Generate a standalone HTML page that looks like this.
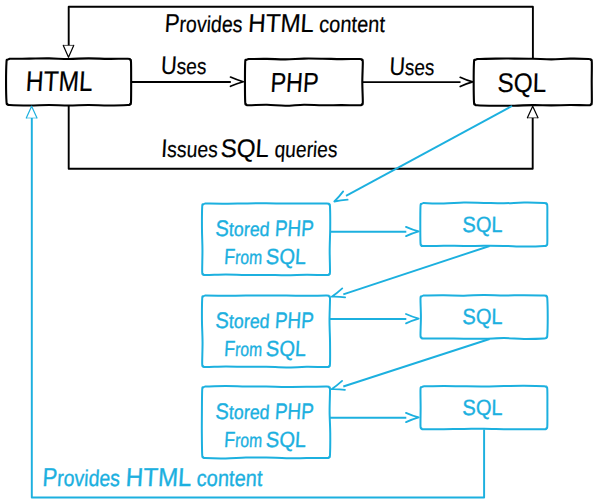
<!DOCTYPE html>
<html><head><meta charset="utf-8"><style>
html,body{margin:0;padding:0;background:#fff;width:600px;height:503px;overflow:hidden}
svg{display:block}
text{font-family:"Liberation Sans",sans-serif}
</style></head><body>
<svg width="600" height="503" viewBox="0 0 600 503">
<rect width="600" height="503" fill="#fff"/>
<path d="M532.9,59 L532.9,6.7 L68.7,6.7 L68.7,45.4" fill="none" stroke="#000" stroke-width="1.9" stroke-linejoin="round" stroke-linecap="butt"/>
<path d="M63.3,45.4 L68.5,57.3 L73.7,45.4 Z" fill="#fff" stroke="none"/>
<path d="M63.3,45.4 L68.5,57.3 L73.7,45.4" fill="none" stroke="#000" stroke-width="1.2" stroke-linejoin="round" stroke-linecap="round"/>
<path d="M63.3,45.4 L73.7,45.4" fill="none" stroke="#000" stroke-width="0.9" stroke-opacity="0.75"/>
<path d="M68.7,105 L68.7,168.8 L532.7,168.8 L532.7,117.8" fill="none" stroke="#000" stroke-width="1.9" stroke-linejoin="round" stroke-linecap="butt"/>
<path d="M527.4,117.8 L532.7,106.2 L538,117.8 Z" fill="#fff" stroke="none"/>
<path d="M527.4,117.8 L532.7,106.2 L538,117.8" fill="none" stroke="#000" stroke-width="1.2" stroke-linejoin="round" stroke-linecap="round"/>
<path d="M527.4,117.8 L538,117.8" fill="none" stroke="#000" stroke-width="0.9" stroke-opacity="0.75"/>
<path d="M131,82 L230.8,82" fill="none" stroke="#000" stroke-width="1.85" stroke-linejoin="round" stroke-linecap="butt"/>
<path d="M230.5,86.3 Q236.9,83.4 243.3,81.7 Q236.9,80 230.5,77.1" fill="none" stroke="#000" stroke-width="1.7" stroke-linejoin="round" stroke-linecap="round"/>
<path d="M362.8,82.1 L460.5,82.1" fill="none" stroke="#000" stroke-width="1.85" stroke-linejoin="round" stroke-linecap="butt"/>
<path d="M460.2,86.5 Q466.4,83.6 472.6,81.9 Q466.4,80.2 460.2,77.3" fill="none" stroke="#000" stroke-width="1.7" stroke-linejoin="round" stroke-linecap="round"/>
<path d="M9.7,58.8 C12.98,58.77 22.82,58.67 29.38,58.61 C35.94,58.54 42.51,58.36 49.07,58.42 C55.63,58.48 62.19,58.98 68.75,58.97 C75.31,58.95 81.87,58.35 88.43,58.33 C94.99,58.31 101.56,58.76 108.12,58.84 C114.68,58.92 124.15,58.65 127.8,58.8 C131.45,58.95 129.51,59.23 130.04,59.76 C130.57,60.29 130.82,58.31 131,62 C131.18,65.69 131.15,75.27 131.15,81.9 C131.15,88.53 131.18,98.11 131,101.8 C130.82,105.49 130.57,103.51 130.04,104.04 C129.51,104.57 131.45,104.76 127.8,105 C124.15,105.24 114.68,105.49 108.12,105.49 C101.56,105.48 94.99,104.99 88.43,104.99 C81.87,105 75.31,105.5 68.75,105.51 C62.19,105.52 55.63,105.08 49.07,105.07 C42.51,105.07 35.94,105.49 29.38,105.47 C22.82,105.46 13.35,105.24 9.7,105 C6.05,104.76 7.99,104.57 7.46,104.04 C6.93,103.51 6.74,105.49 6.5,101.8 C6.26,98.11 6.05,88.53 6.05,81.9 C6.05,75.27 6.26,65.69 6.5,62 C6.74,58.31 6.93,60.29 7.46,59.76 C7.99,59.23 9.33,58.96 9.7,58.8 Z" fill="#fff" stroke="#000" stroke-width="2.1" stroke-linejoin="round"/>
<path d="M248.4,59 C251.49,58.99 260.76,58.86 266.93,58.92 C273.11,58.98 279.29,59.41 285.47,59.36 C291.64,59.3 297.82,58.7 304,58.59 C310.18,58.48 316.36,58.6 322.53,58.7 C328.71,58.79 334.89,59.09 341.07,59.14 C347.24,59.19 356.14,58.86 359.6,59 C363.06,59.14 361.31,59.43 361.84,59.96 C362.37,60.49 362.72,58.51 362.8,62.2 C362.88,65.89 362.31,75.47 362.31,82.1 C362.31,88.73 362.88,98.31 362.8,102 C362.72,105.69 362.37,103.71 361.84,104.24 C361.31,104.77 363.06,105.05 359.6,105.2 C356.14,105.35 347.24,105.1 341.07,105.12 C334.89,105.13 328.71,105.39 322.53,105.31 C316.36,105.24 310.18,104.61 304,104.68 C297.82,104.74 291.64,105.68 285.47,105.7 C279.29,105.72 273.11,104.89 266.93,104.81 C260.76,104.72 251.86,105.29 248.4,105.2 C244.94,105.11 246.69,104.77 246.16,104.24 C245.63,103.71 245.4,105.69 245.2,102 C245,98.31 244.97,88.73 244.97,82.1 C244.97,75.47 245,65.89 245.2,62.2 C245.4,58.51 245.63,60.49 246.16,59.96 C246.69,59.43 248.03,59.16 248.4,59 Z" fill="#fff" stroke="#000" stroke-width="2.1" stroke-linejoin="round"/>
<path d="M477.2,59 C480.29,58.93 489.58,58.68 495.77,58.61 C501.96,58.54 508.14,58.55 514.33,58.58 C520.52,58.61 526.71,58.66 532.9,58.79 C539.09,58.92 545.28,59.37 551.47,59.35 C557.66,59.32 563.84,58.71 570.03,58.65 C576.22,58.59 585.13,58.78 588.6,59 C592.07,59.22 590.31,59.43 590.84,59.96 C591.37,60.49 591.65,58.51 591.8,62.2 C591.95,65.89 591.71,75.47 591.71,82.1 C591.71,88.73 591.95,98.31 591.8,102 C591.65,105.69 591.37,103.71 590.84,104.24 C590.31,104.77 592.07,105.07 588.6,105.2 C585.13,105.33 576.22,105.02 570.03,105.05 C563.84,105.07 557.66,105.32 551.47,105.34 C545.28,105.36 539.09,105.09 532.9,105.15 C526.71,105.2 520.52,105.59 514.33,105.68 C508.14,105.77 501.96,105.76 495.77,105.68 C489.58,105.6 480.67,105.44 477.2,105.2 C473.73,104.96 475.49,104.77 474.96,104.24 C474.43,103.71 474.21,105.69 474,102 C473.79,98.31 473.68,88.73 473.68,82.1 C473.68,75.47 473.79,65.89 474,62.2 C474.21,58.51 474.43,60.49 474.96,59.96 C475.49,59.43 476.83,59.16 477.2,59 Z" fill="#fff" stroke="#000" stroke-width="2.1" stroke-linejoin="round"/>
<text x="164.18" y="31.7" textLength="77.94" lengthAdjust="spacingAndGlyphs" fill="#000" stroke="#000" stroke-width="0.2" font-size="26" transform="translate(164.18,31.7) skewX(-3.5) translate(-164.18,-31.7)">P<tspan font-size="22.88">rovides</tspan></text>
<text x="247.72" y="31.7" textLength="65.82" lengthAdjust="spacingAndGlyphs" fill="#000" stroke="#000" stroke-width="0.2" font-size="26" transform="translate(247.72,31.7) skewX(-3.5) translate(-247.72,-31.7)">HTML</text>
<text x="318.82" y="31.7" textLength="65.72" lengthAdjust="spacingAndGlyphs" fill="#000" stroke="#000" stroke-width="0.2" font-size="26" transform="translate(318.82,31.7) skewX(-3.5) translate(-318.82,-31.7)"><tspan font-size="22.88">content</tspan></text>
<text x="160.57" y="74.5" textLength="45.55" lengthAdjust="spacingAndGlyphs" fill="#000" stroke="#000" stroke-width="0.2" font-size="25.5" transform="translate(160.57,74.5) skewX(-3.5) translate(-160.57,-74.5)">U<tspan font-size="22.44">ses</tspan></text>
<text x="389.09" y="74.8" textLength="45.02" lengthAdjust="spacingAndGlyphs" fill="#000" stroke="#000" stroke-width="0.2" font-size="25.5" transform="translate(389.09,74.8) skewX(-3.5) translate(-389.09,-74.8)">U<tspan font-size="22.44">ses</tspan></text>
<text x="25.25" y="90.6" textLength="66.92" lengthAdjust="spacingAndGlyphs" fill="#000" stroke="#000" stroke-width="0.2" font-size="28.5" transform="translate(25.25,90.6) skewX(-3.5) translate(-25.25,-90.6)">HTML</text>
<text x="270.05" y="92.5" textLength="48.02" lengthAdjust="spacingAndGlyphs" fill="#000" stroke="#000" stroke-width="0.2" font-size="27.6" transform="translate(270.05,92.5) skewX(-3.5) translate(-270.05,-92.5)">PHP</text>
<text x="497.33" y="92.5" textLength="48.68" lengthAdjust="spacingAndGlyphs" fill="#000" stroke="#000" stroke-width="0.2" font-size="27" transform="translate(497.33,92.5) skewX(-1.5) translate(-497.33,-92.5)">SQL</text>
<text x="160.69" y="157" textLength="56.66" lengthAdjust="spacingAndGlyphs" fill="#000" stroke="#000" stroke-width="0.2" font-size="25.5" transform="translate(160.69,157) skewX(-3.5) translate(-160.69,-157)">I<tspan font-size="22.44">ssues</tspan></text>
<text x="220.14" y="157" textLength="48.42" lengthAdjust="spacingAndGlyphs" fill="#000" stroke="#000" stroke-width="0.2" font-size="25.5" transform="translate(220.14,157) skewX(-3.5) translate(-220.14,-157)">SQL</text>
<text x="274.16" y="157" textLength="62.9" lengthAdjust="spacingAndGlyphs" fill="#000" stroke="#000" stroke-width="0.2" font-size="25.5" transform="translate(274.16,157) skewX(-3.5) translate(-274.16,-157)"><tspan font-size="22.44">queries</tspan></text>
<path d="M512,106 L346,195.8" fill="none" stroke="#1cb0df" stroke-width="1.9" stroke-linejoin="round" stroke-linecap="butt"/>
<path d="M343.17,191.4 Q339.02,196.98 334.3,201.5 Q340.68,200.06 347.62,199.68" fill="none" stroke="#1cb0df" stroke-width="1.8" stroke-linejoin="round" stroke-linecap="round"/>
<path d="M205.4,203.5 C208.77,203.53 218.89,203.71 225.63,203.7 C232.38,203.69 239.12,203.49 245.87,203.42 C252.61,203.35 259.36,203.27 266.1,203.3 C272.84,203.32 279.59,203.57 286.33,203.59 C293.08,203.62 299.82,203.46 306.57,203.45 C313.31,203.43 323.05,203.33 326.8,203.5 C330.55,203.67 328.51,203.93 329.04,204.46 C329.57,204.99 329.8,202.71 330,206.7 C330.2,210.69 330.27,221.17 330.22,228.4 C330.17,235.63 329.71,242.87 329.68,250.1 C329.64,257.33 330.11,267.81 330,271.8 C329.89,275.79 329.57,273.51 329.04,274.04 C328.51,274.57 330.55,274.88 326.8,275 C323.05,275.12 313.31,274.73 306.57,274.78 C299.82,274.83 293.08,275.26 286.33,275.28 C279.59,275.3 272.84,274.97 266.1,274.92 C259.36,274.87 252.61,275.03 245.87,274.97 C239.12,274.92 232.38,274.58 225.63,274.59 C218.89,274.59 209.15,275.09 205.4,275 C201.65,274.91 203.69,274.57 203.16,274.04 C202.63,273.51 202.32,275.79 202.2,271.8 C202.08,267.81 202.49,257.33 202.45,250.1 C202.41,242.87 202.01,235.63 201.97,228.4 C201.92,221.17 202,210.69 202.2,206.7 C202.4,202.71 202.63,204.99 203.16,204.46 C203.69,203.93 205.03,203.66 205.4,203.5 Z" fill="#fff" stroke="#1cb0df" stroke-width="2" stroke-linejoin="round"/>
<path d="M423.7,203 C427.04,203.09 437.08,203.6 443.77,203.53 C450.46,203.46 457.14,202.68 463.83,202.58 C470.52,202.48 477.21,202.79 483.9,202.91 C490.59,203.03 497.28,203.33 503.97,203.28 C510.66,203.23 517.34,202.66 524.03,202.62 C530.72,202.57 540.38,202.78 544.1,203 C547.82,203.22 545.81,203.43 546.34,203.96 C546.87,204.49 547.14,202.77 547.3,206.2 C547.46,209.63 547.31,218.43 547.31,224.55 C547.31,230.67 547.46,239.47 547.3,242.9 C547.14,246.33 546.87,244.61 546.34,245.14 C545.81,245.67 547.82,245.86 544.1,246.1 C540.38,246.34 530.72,246.64 524.03,246.61 C517.34,246.58 510.66,246.05 503.97,245.91 C497.28,245.78 490.59,245.79 483.9,245.81 C477.21,245.83 470.52,246.04 463.83,246.02 C457.14,246 450.46,245.67 443.77,245.69 C437.08,245.7 427.42,246.19 423.7,246.1 C419.98,246.01 421.99,245.67 421.46,245.14 C420.93,244.61 420.69,246.33 420.5,242.9 C420.31,239.47 420.3,230.67 420.3,224.55 C420.3,218.43 420.31,209.63 420.5,206.2 C420.69,202.77 420.93,204.49 421.46,203.96 C421.99,203.43 423.33,203.16 423.7,203 Z" fill="#fff" stroke="#1cb0df" stroke-width="2" stroke-linejoin="round"/>
<path d="M330,231.8 L406.3,231.8" fill="none" stroke="#1cb0df" stroke-width="1.9" stroke-linejoin="round" stroke-linecap="butt"/>
<path d="M406.04,236.15 Q412.36,233.17 418.7,231.4 Q412.34,229.73 405.96,226.85" fill="none" stroke="#1cb0df" stroke-width="1.8" stroke-linejoin="round" stroke-linecap="round"/>
<text x="215.08" y="236" textLength="54.12" lengthAdjust="spacingAndGlyphs" fill="#1cb0df" stroke="#1cb0df" stroke-width="0.35" font-size="22.5" transform="translate(215.08,236) skewX(-3.5) translate(-215.08,-236)">S<tspan font-size="19.8">tored</tspan></text>
<text x="274.49" y="236" textLength="38.95" lengthAdjust="spacingAndGlyphs" fill="#1cb0df" stroke="#1cb0df" stroke-width="0.35" font-size="22.5" transform="translate(274.49,236) skewX(-3.5) translate(-274.49,-236)">PHP</text>
<text x="223.78" y="264.3" textLength="37.96" lengthAdjust="spacingAndGlyphs" fill="#1cb0df" stroke="#1cb0df" stroke-width="0.35" font-size="22" transform="translate(223.78,264.3) skewX(-3.5) translate(-223.78,-264.3)">F<tspan font-size="19.36">rom</tspan></text>
<text x="265.59" y="264.3" textLength="40.11" lengthAdjust="spacingAndGlyphs" fill="#1cb0df" stroke="#1cb0df" stroke-width="0.35" font-size="22" transform="translate(265.59,264.3) skewX(-3.5) translate(-265.59,-264.3)">SQL</text>
<text x="462.29" y="232.3" textLength="40.28" lengthAdjust="spacingAndGlyphs" fill="#1cb0df" stroke="#1cb0df" stroke-width="0.35" font-size="22" transform="translate(462.29,232.3) skewX(-1) translate(-462.29,-232.3)">SQL</text>
<path d="M489.6,246 L343.3,294.3" fill="none" stroke="#1cb0df" stroke-width="1.9" stroke-linejoin="round" stroke-linecap="butt"/>
<path d="M342.26,288.37 Q337.16,293.11 331.7,296.7 Q338.23,296.44 345.13,297.32" fill="none" stroke="#1cb0df" stroke-width="1.8" stroke-linejoin="round" stroke-linecap="round"/>
<path d="M205.4,295.5 C208.77,295.54 218.89,295.7 225.63,295.71 C232.38,295.73 239.12,295.62 245.87,295.6 C252.61,295.58 259.36,295.61 266.1,295.59 C272.84,295.56 279.59,295.4 286.33,295.45 C293.08,295.5 299.82,295.87 306.57,295.87 C313.31,295.88 323.05,295.4 326.8,295.5 C330.55,295.6 328.51,295.93 329.04,296.46 C329.57,296.99 329.92,294.71 330,298.7 C330.08,302.69 329.51,313.17 329.51,320.4 C329.52,327.63 329.95,334.87 330.03,342.1 C330.11,349.33 330.16,359.81 330,363.8 C329.84,367.79 329.57,365.51 329.04,366.04 C328.51,366.57 330.55,366.87 326.8,367 C323.05,367.13 313.31,366.74 306.57,366.82 C299.82,366.9 293.08,367.49 286.33,367.48 C279.59,367.48 272.84,366.89 266.1,366.78 C259.36,366.67 252.61,366.89 245.87,366.84 C239.12,366.78 232.38,366.43 225.63,366.46 C218.89,366.48 209.15,367.07 205.4,367 C201.65,366.93 203.69,366.57 203.16,366.04 C202.63,365.51 202.3,367.79 202.2,363.8 C202.1,359.81 202.59,349.33 202.55,342.1 C202.51,334.87 202.02,327.63 201.96,320.4 C201.9,313.17 202,302.69 202.2,298.7 C202.4,294.71 202.63,296.99 203.16,296.46 C203.69,295.93 205.03,295.66 205.4,295.5 Z" fill="#fff" stroke="#1cb0df" stroke-width="2" stroke-linejoin="round"/>
<path d="M423.7,295.5 C427.04,295.48 437.08,295.34 443.77,295.37 C450.46,295.41 457.14,295.75 463.83,295.69 C470.52,295.62 477.21,295.01 483.9,294.97 C490.59,294.94 497.28,295.43 503.97,295.46 C510.66,295.48 517.34,295.13 524.03,295.13 C530.72,295.14 540.38,295.28 544.1,295.5 C547.82,295.72 545.81,295.93 546.34,296.46 C546.87,296.99 547.07,295.28 547.3,298.7 C547.53,302.12 547.72,310.87 547.72,316.95 C547.72,323.03 547.53,331.78 547.3,335.2 C547.07,338.62 546.87,336.91 546.34,337.44 C545.81,337.97 547.82,338.16 544.1,338.4 C540.38,338.64 530.72,338.93 524.03,338.89 C517.34,338.84 510.66,338.12 503.97,338.1 C497.28,338.09 490.59,338.71 483.9,338.81 C477.21,338.9 470.52,338.73 463.83,338.68 C457.14,338.63 450.46,338.57 443.77,338.52 C437.08,338.47 427.42,338.58 423.7,338.4 C419.98,338.22 421.99,337.97 421.46,337.44 C420.93,336.91 420.59,338.62 420.5,335.2 C420.41,331.78 420.91,323.03 420.91,316.95 C420.91,310.87 420.41,302.12 420.5,298.7 C420.59,295.28 420.93,296.99 421.46,296.46 C421.99,295.93 423.33,295.66 423.7,295.5 Z" fill="#fff" stroke="#1cb0df" stroke-width="2" stroke-linejoin="round"/>
<path d="M330,319 L406.3,319" fill="none" stroke="#1cb0df" stroke-width="1.9" stroke-linejoin="round" stroke-linecap="butt"/>
<path d="M406.04,323.35 Q412.36,320.37 418.7,318.6 Q412.34,316.93 405.96,314.05" fill="none" stroke="#1cb0df" stroke-width="1.8" stroke-linejoin="round" stroke-linecap="round"/>
<text x="215.08" y="328" textLength="54.12" lengthAdjust="spacingAndGlyphs" fill="#1cb0df" stroke="#1cb0df" stroke-width="0.35" font-size="22.5" transform="translate(215.08,328) skewX(-3.5) translate(-215.08,-328)">S<tspan font-size="19.8">tored</tspan></text>
<text x="274.49" y="328" textLength="38.95" lengthAdjust="spacingAndGlyphs" fill="#1cb0df" stroke="#1cb0df" stroke-width="0.35" font-size="22.5" transform="translate(274.49,328) skewX(-3.5) translate(-274.49,-328)">PHP</text>
<text x="223.78" y="356.3" textLength="37.96" lengthAdjust="spacingAndGlyphs" fill="#1cb0df" stroke="#1cb0df" stroke-width="0.35" font-size="22" transform="translate(223.78,356.3) skewX(-3.5) translate(-223.78,-356.3)">F<tspan font-size="19.36">rom</tspan></text>
<text x="265.59" y="356.3" textLength="40.11" lengthAdjust="spacingAndGlyphs" fill="#1cb0df" stroke="#1cb0df" stroke-width="0.35" font-size="22" transform="translate(265.59,356.3) skewX(-3.5) translate(-265.59,-356.3)">SQL</text>
<text x="462.29" y="324.3" textLength="40.28" lengthAdjust="spacingAndGlyphs" fill="#1cb0df" stroke="#1cb0df" stroke-width="0.35" font-size="22" transform="translate(462.29,324.3) skewX(-1) translate(-462.29,-324.3)">SQL</text>
<path d="M489.6,339 L343.3,386.5" fill="none" stroke="#1cb0df" stroke-width="1.9" stroke-linejoin="round" stroke-linecap="butt"/>
<path d="M342.09,380.91 Q336.97,385.63 331.5,389.2 Q338.03,388.96 344.93,389.87" fill="none" stroke="#1cb0df" stroke-width="1.8" stroke-linejoin="round" stroke-linecap="round"/>
<path d="M205.4,386.5 C208.77,386.42 218.89,386.05 225.63,386.04 C232.38,386.03 239.12,386.36 245.87,386.44 C252.61,386.53 259.36,386.47 266.1,386.55 C272.84,386.63 279.59,386.87 286.33,386.92 C293.08,386.97 299.82,386.92 306.57,386.85 C313.31,386.78 323.05,386.4 326.8,386.5 C330.55,386.6 328.51,386.93 329.04,387.46 C329.57,387.99 329.91,385.71 330,389.7 C330.09,393.69 329.56,404.17 329.6,411.4 C329.64,418.63 330.18,425.87 330.24,433.1 C330.31,440.33 330.2,450.81 330,454.8 C329.8,458.79 329.57,456.51 329.04,457.04 C328.51,457.57 330.55,457.82 326.8,458 C323.05,458.18 313.31,458.07 306.57,458.09 C299.82,458.12 293.08,458.24 286.33,458.16 C279.59,458.07 272.84,457.69 266.1,457.58 C259.36,457.47 252.61,457.36 245.87,457.5 C239.12,457.63 232.38,458.3 225.63,458.38 C218.89,458.47 209.15,458.22 205.4,458 C201.65,457.78 203.69,457.57 203.16,457.04 C202.63,456.51 202.42,458.79 202.2,454.8 C201.98,450.81 201.89,440.33 201.84,433.1 C201.79,425.87 201.85,418.63 201.91,411.4 C201.96,404.17 201.99,393.69 202.2,389.7 C202.41,385.71 202.63,387.99 203.16,387.46 C203.69,386.93 205.03,386.66 205.4,386.5 Z" fill="#fff" stroke="#1cb0df" stroke-width="2" stroke-linejoin="round"/>
<path d="M423.7,386.3 C427.04,386.25 437.08,386.01 443.77,386.01 C450.46,386 457.14,386.22 463.83,386.28 C470.52,386.35 477.21,386.44 483.9,386.4 C490.59,386.36 497.28,386.15 503.97,386.04 C510.66,385.93 517.34,385.71 524.03,385.75 C530.72,385.8 540.38,386.05 544.1,386.3 C547.82,386.55 545.81,386.73 546.34,387.26 C546.87,387.79 547.13,386.08 547.3,389.5 C547.47,392.92 547.39,401.67 547.39,407.75 C547.39,413.83 547.47,422.58 547.3,426 C547.13,429.42 546.87,427.71 546.34,428.24 C545.81,428.77 547.82,429.02 544.1,429.2 C540.38,429.38 530.72,429.36 524.03,429.34 C517.34,429.33 510.66,429.23 503.97,429.13 C497.28,429.02 490.59,428.72 483.9,428.7 C477.21,428.68 470.52,428.91 463.83,428.99 C457.14,429.07 450.46,429.15 443.77,429.18 C437.08,429.22 427.42,429.36 423.7,429.2 C419.98,429.04 421.99,428.77 421.46,428.24 C420.93,427.71 420.64,429.42 420.5,426 C420.36,422.58 420.63,413.83 420.63,407.75 C420.63,401.67 420.36,392.92 420.5,389.5 C420.64,386.08 420.93,387.79 421.46,387.26 C421.99,386.73 423.33,386.46 423.7,386.3 Z" fill="#fff" stroke="#1cb0df" stroke-width="2" stroke-linejoin="round"/>
<path d="M330,417.8 L406.3,417.8" fill="none" stroke="#1cb0df" stroke-width="1.9" stroke-linejoin="round" stroke-linecap="butt"/>
<path d="M406.04,422.15 Q412.36,419.17 418.7,417.4 Q412.34,415.73 405.96,412.85" fill="none" stroke="#1cb0df" stroke-width="1.8" stroke-linejoin="round" stroke-linecap="round"/>
<text x="215.08" y="419" textLength="54.12" lengthAdjust="spacingAndGlyphs" fill="#1cb0df" stroke="#1cb0df" stroke-width="0.35" font-size="22.5" transform="translate(215.08,419) skewX(-3.5) translate(-215.08,-419)">S<tspan font-size="19.8">tored</tspan></text>
<text x="274.49" y="419" textLength="38.95" lengthAdjust="spacingAndGlyphs" fill="#1cb0df" stroke="#1cb0df" stroke-width="0.35" font-size="22.5" transform="translate(274.49,419) skewX(-3.5) translate(-274.49,-419)">PHP</text>
<text x="223.78" y="447.3" textLength="37.96" lengthAdjust="spacingAndGlyphs" fill="#1cb0df" stroke="#1cb0df" stroke-width="0.35" font-size="22" transform="translate(223.78,447.3) skewX(-3.5) translate(-223.78,-447.3)">F<tspan font-size="19.36">rom</tspan></text>
<text x="265.59" y="447.3" textLength="40.11" lengthAdjust="spacingAndGlyphs" fill="#1cb0df" stroke="#1cb0df" stroke-width="0.35" font-size="22" transform="translate(265.59,447.3) skewX(-3.5) translate(-265.59,-447.3)">SQL</text>
<text x="462.29" y="415.3" textLength="40.28" lengthAdjust="spacingAndGlyphs" fill="#1cb0df" stroke="#1cb0df" stroke-width="0.35" font-size="22" transform="translate(462.29,415.3) skewX(-1) translate(-462.29,-415.3)">SQL</text>
<path d="M484.1,429.4 L484.1,497.4 L31.8,497.4 L31.8,118" fill="none" stroke="#1cb0df" stroke-width="1.95" stroke-linejoin="round" stroke-linecap="butt"/>
<path d="M26.3,118 L31.6,106.2 L37,118 Z" fill="#fff" stroke="none"/>
<path d="M26.3,118 L31.6,106.2 L37,118" fill="none" stroke="#1cb0df" stroke-width="1.2" stroke-linejoin="round" stroke-linecap="round"/>
<path d="M26.3,118 L37,118" fill="none" stroke="#1cb0df" stroke-width="0.9" stroke-opacity="0.75"/>
<text x="41.99" y="485.8" textLength="77.63" lengthAdjust="spacingAndGlyphs" fill="#1cb0df" stroke="#1cb0df" stroke-width="0.35" font-size="26" transform="translate(41.99,485.8) skewX(-3.5) translate(-41.99,-485.8)">P<tspan font-size="22.88">rovides</tspan></text>
<text x="125.22" y="485.8" textLength="65.82" lengthAdjust="spacingAndGlyphs" fill="#1cb0df" stroke="#1cb0df" stroke-width="0.35" font-size="26" transform="translate(125.22,485.8) skewX(-3.5) translate(-125.22,-485.8)">HTML</text>
<text x="196.32" y="485.8" textLength="65.72" lengthAdjust="spacingAndGlyphs" fill="#1cb0df" stroke="#1cb0df" stroke-width="0.35" font-size="26" transform="translate(196.32,485.8) skewX(-3.5) translate(-196.32,-485.8)"><tspan font-size="22.88">content</tspan></text>
</svg>
</body></html>
